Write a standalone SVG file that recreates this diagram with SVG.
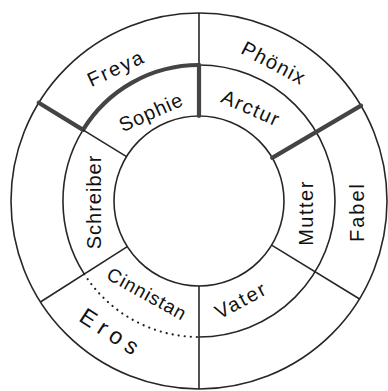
<svg xmlns="http://www.w3.org/2000/svg" width="388" height="391" viewBox="0 0 388 391">
<style>
.ln{fill:none;stroke:#262626;stroke-width:1.6}
.thick{fill:none;stroke:#444;stroke-width:4.2;stroke-linecap:round}
.dot{fill:none;stroke:#222;stroke-width:2.2;stroke-linecap:round;stroke-dasharray:0.1 6}
.lbl{font-family:"Liberation Sans","DejaVu Sans",sans-serif;font-size:20px;fill:#111;text-anchor:middle;dominant-baseline:central;letter-spacing:1px}
</style>
<rect width="388" height="391" fill="#fff"/>
<g id="rings">
<circle class="ln" cx="199" cy="201" r="188"/>
<circle class="ln" cx="199" cy="201" r="85"/>
<path class="ln" d="M199 65 A136 136 0 1 1 199 337"/>
<path class="ln" d="M83 129.9 A136 136 0 0 0 84.3 274.1"/>
<path class="ln" d="M83 129.9 A136 136 0 0 1 199 65"/>
</g>
<g id="connectors">
<path class="thick" d="M83 129.9 A136 136 0 0 1 199 65"/>
<path class="dot" d="M84.3 274.1 A136 136 0 0 0 199 337"/>
<line class="ln" x1="199" y1="13" x2="199" y2="65"/>
<line class="thick" x1="199" y1="65" x2="199" y2="116"/>
<line class="thick" x1="38.7" y1="102.8" x2="83" y2="129.9"/>
<line class="ln" x1="83" y1="129.9" x2="126.5" y2="156.6"/>
<line class="thick" x1="361" y1="105.6" x2="272.2" y2="157.9"/>
<line class="ln" x1="272" y1="245.4" x2="360" y2="299.2"/>
<line class="ln" x1="199" y1="286" x2="199" y2="389"/>
<line class="ln" x1="127.3" y1="246.7" x2="40.4" y2="302"/>
</g>
<g id="freya"><text class="lbl" transform="translate(116,68) rotate(-25)" style="letter-spacing:2px">Freya</text></g>
<g id="phoenix"><text class="lbl" transform="translate(274,63) rotate(28)" style="letter-spacing:1.5px">Phönix</text></g>
<g id="sophie"><text class="lbl" transform="translate(151,112) rotate(-24)">Sophie</text></g>
<g id="arctur"><text class="lbl" transform="translate(251,108) rotate(24)" style="letter-spacing:1.5px">Arctur</text></g>
<g id="schreiber"><text class="lbl" transform="translate(94,202) rotate(-90)">Schreiber</text></g>
<g id="mutter"><text class="lbl" transform="translate(306,213) rotate(-90)" style="letter-spacing:1.5px">Mutter</text></g>
<g id="fabel"><text class="lbl" transform="translate(357,212) rotate(-90)" style="letter-spacing:2px">Fabel</text></g>
<g id="cinnistan"><text class="lbl" transform="translate(147,294) rotate(29)" style="font-size:19px">Cinnistan</text></g>
<g id="vater"><text class="lbl" transform="translate(241,300) rotate(-28)" style="letter-spacing:2px">Vater</text></g>
<g id="eros"><text class="lbl" transform="translate(112,333) rotate(33)" style="font-size:23px;letter-spacing:6px">Eros</text></g>
</svg>
